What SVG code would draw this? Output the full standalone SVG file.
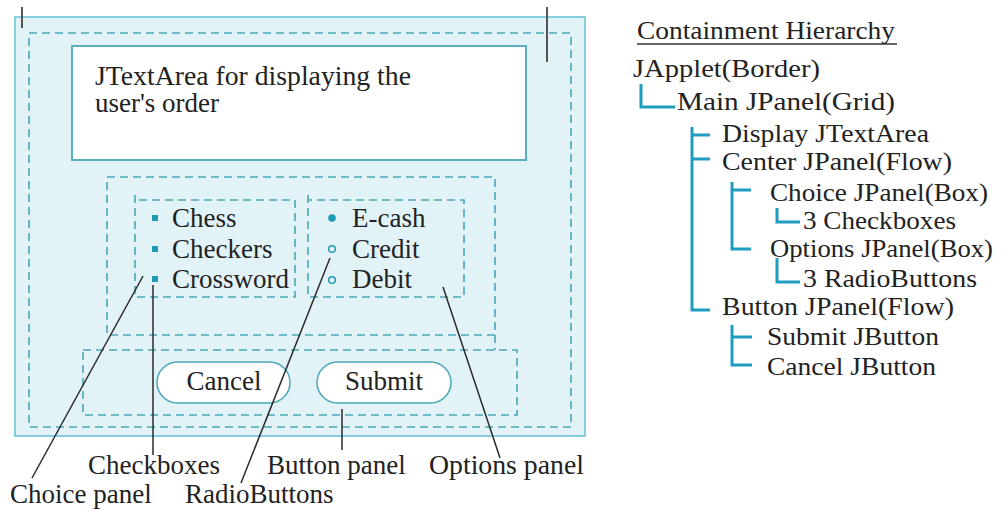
<svg xmlns="http://www.w3.org/2000/svg" width="1005" height="512" viewBox="0 0 1005 512">
<style>
text{font-family:"Liberation Serif","Times New Roman",serif;font-size:27px;fill:#222}
.h{font-size:24.5px}
.dash{fill:none;stroke:#4aa6b8;stroke-width:1.6;stroke-dasharray:8 5}
.tree{fill:none;stroke:#1f9cc0;stroke-width:3}
.lead{fill:none;stroke:#2a2a2a;stroke-width:1.5}
.tick{stroke:#555;stroke-width:2}
.btn{fill:#fff;stroke:#4aa6b8;stroke-width:1.5}
.chk{fill:#1f9bb5}
</style>
<rect width="1005" height="512" fill="#fff"/>
<g id="applet">
<rect x="15" y="17" width="570" height="419" fill="#e2f3f8" stroke="#86cde0" stroke-width="2"/>
<line class="tick" x1="22" y1="7" x2="22" y2="28"/>
<line class="tick" x1="547" y1="7" x2="547" y2="62"/>
</g>
<g id="mainPanel">
<rect class="dash" x="29" y="33" width="542" height="394"/>
</g>
<g id="textArea">
<rect x="72" y="46" width="454" height="114" fill="#fff" stroke="#5aaec0" stroke-width="2"/>
<text x="95" y="85" textLength="316" lengthAdjust="spacingAndGlyphs">JTextArea for displaying the</text>
<text x="95" y="112">user's order</text>
</g>
<g id="centerPanel">
<path class="dash" d="M107 177H495V335H107Z M495 335V350"/>
</g>
<g id="choicePanel">
<path class="dash" d="M135 195V297H295V200H135"/>
<rect class="chk" x="152" y="215" width="6" height="6"/>
<rect class="chk" x="152" y="246" width="6" height="6"/>
<rect class="chk" x="152" y="276" width="6" height="6"/>
<text x="172" y="227">Chess</text>
<text x="172" y="258">Checkers</text>
<text x="172" y="288">Crossword</text>
</g>
<g id="optionsPanel">
<path class="dash" d="M308 195V297H464V200H308"/>
<circle cx="332" cy="218" r="3.8" fill="#1f9bb5"/>
<circle cx="332" cy="249" r="3.3" fill="none" stroke="#1f9bb5" stroke-width="1.5"/>
<circle cx="332" cy="280" r="3.3" fill="none" stroke="#1f9bb5" stroke-width="1.5"/>
<text x="352" y="227">E-cash</text>
<text x="352" y="258">Credit</text>
<text x="352" y="288">Debit</text>
</g>
<g id="buttonPanel">
<rect class="dash" x="83" y="350" width="434" height="65"/>
<rect class="btn" x="157" y="362" width="133" height="41" rx="20.5"/>
<text x="224" y="390" text-anchor="middle">Cancel</text>
<rect class="btn" x="317" y="362" width="134" height="41" rx="20.5"/>
<text x="384" y="390" text-anchor="middle">Submit</text>
</g>
<g id="connectors">
<line class="lead" x1="143" y1="276" x2="32" y2="478"/>
<line class="lead" x1="153" y1="285" x2="153" y2="455"/>
<line class="lead" x1="330" y1="258" x2="241" y2="483"/>
<line class="lead" x1="443" y1="287" x2="500" y2="458"/>
<line class="lead" x1="342" y1="409" x2="342" y2="450"/>
<path class="tree" d="M641 84V107H675"/>
<path class="tree" d="M692 127V310H710 M692 135H710 M692 159H710"/>
<path class="tree" d="M732 182V249H751 M732 190H751"/>
<path class="tree" d="M777 208V222H800"/>
<path class="tree" d="M777 258V282H800"/>
<path class="tree" d="M732 325V365H752 M732 337H752"/>
</g>
<g id="labels">
<text x="88" y="474">Checkboxes</text>
<text x="267" y="474">Button panel</text>
<text x="429" y="474" textLength="155" lengthAdjust="spacingAndGlyphs">Options panel</text>
<text x="10" y="503">Choice panel</text>
<text x="185" y="503">RadioButtons</text>
</g>
<g id="hierarchy">
<text class="h" x="637" y="39" textLength="258" lengthAdjust="spacingAndGlyphs">Containment Hierarchy</text>
<line x1="637" y1="44" x2="897" y2="44" stroke="#333" stroke-width="1.5"/>
<text class="h" x="633" y="77" textLength="187" lengthAdjust="spacingAndGlyphs">JApplet(Border)</text>
<text class="h" x="677" y="110" textLength="218" lengthAdjust="spacingAndGlyphs">Main JPanel(Grid)</text>
<text class="h" x="722" y="142" textLength="207" lengthAdjust="spacingAndGlyphs">Display JTextArea</text>
<text class="h" x="722" y="170" textLength="230" lengthAdjust="spacingAndGlyphs">Center JPanel(Flow)</text>
<text class="h" x="770" y="201" textLength="218" lengthAdjust="spacingAndGlyphs">Choice JPanel(Box)</text>
<text class="h" x="803" y="229" textLength="153" lengthAdjust="spacingAndGlyphs">3 Checkboxes</text>
<text class="h" x="770" y="257" textLength="223" lengthAdjust="spacingAndGlyphs">Options JPanel(Box)</text>
<text class="h" x="803" y="287" textLength="174" lengthAdjust="spacingAndGlyphs">3 RadioButtons</text>
<text class="h" x="722" y="315" textLength="232" lengthAdjust="spacingAndGlyphs">Button JPanel(Flow)</text>
<text class="h" x="767" y="345" textLength="172" lengthAdjust="spacingAndGlyphs">Submit JButton</text>
<text class="h" x="767" y="375" textLength="169" lengthAdjust="spacingAndGlyphs">Cancel JButton</text>
</g>
</svg>
